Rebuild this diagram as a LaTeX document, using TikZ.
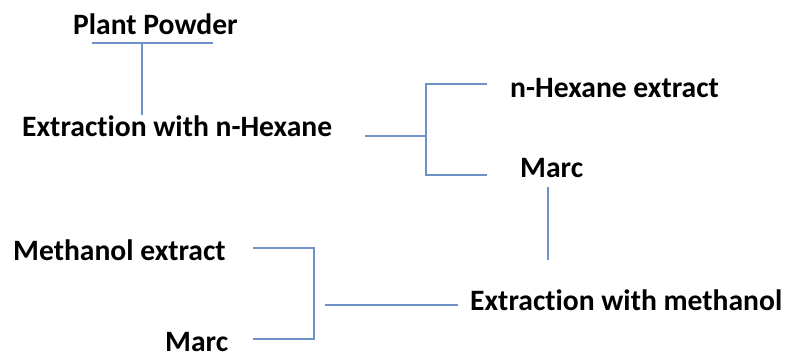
\documentclass[tikz,border=0pt]{standalone}
\usepackage{fontspec}
\setmainfont{Carlito}[Ligatures={NoCommon,NoContextual}]
\definecolor{linecol}{RGB}{110,145,200}
\begin{document}
\begin{tikzpicture}[x=1pt,y=-1pt,
  lbl/.style={font=\bfseries\fontsize{29.6}{32}\selectfont, inner sep=0pt, anchor=base west, text=black},
  conn/.style={draw=linecol, line width=1.6pt}]
\useasboundingbox (0,0) rectangle (786,352);
% texts
\node[lbl] (pp) at (73,35) {Plant Powder};
\node[lbl] (exh) at (22,137) {Extraction with n-Hexane};
\node[lbl] (hexe) at (510,98) {n-Hexane extract};
\node[lbl] (marc1) at (520,178) {Marc};
\node[lbl] (exm) at (470,310) {Extraction with methanol};
\node[lbl] (mete) at (13,261) {Methanol extract};
\node[lbl] (marc2) at (165,351) {Marc};
% coordinates
\coordinate (ppL) at (92,43);
\coordinate (ppR) at (213,43);
\coordinate (ppM) at (142,43);
\coordinate (exhT) at (142,115);
\coordinate (b1s) at (365,136);
\coordinate (b1m) at (426,136);
\coordinate (b1t) at (426,84);
\coordinate (b1b) at (426,175);
\coordinate (b1te) at (487,84);
\coordinate (b1be) at (487,175);
\coordinate (m1b) at (548,187);
\coordinate (m1e) at (548,260);
\coordinate (b2s) at (458,305);
\coordinate (b2m) at (325,305);
\coordinate (b2t) at (314,248);
\coordinate (b2b) at (314,339);
\coordinate (b2te) at (253,248);
\coordinate (b2be) at (253,339);
% connectors
\draw[conn] (ppL) -- (ppR);
\draw[conn] (ppM) -- (exhT);
\draw[conn] (b1s) -- (b1m);
\draw[conn] (b1te) -- (b1t) -- (b1b) -- (b1be);
\draw[conn] (m1b) -- (m1e);
\draw[conn] (b2s) -- (b2m);
\draw[conn] (b2te) -- (b2t) -- (b2b) -- (b2be);
\end{tikzpicture}
\end{document}
